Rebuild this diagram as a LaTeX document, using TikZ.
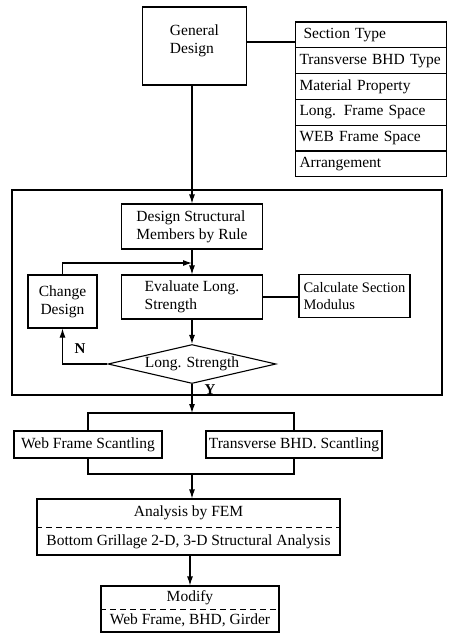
\documentclass[tikz,border=0pt]{standalone}
\usepackage{fontspec}
\setmainfont{Liberation Serif}
\usetikzlibrary{shapes.geometric,arrows.meta}
\begin{document}
\begin{tikzpicture}[
            x=1pt, y=-1pt,
            line width=1.1pt,
            every node/.style={font=\fontsize{15.5}{18}\selectfont},
            box/.style={draw, rectangle, inner sep=0pt},
            row/.style={box, minimum width=151pt, minimum height=25.8pt, text width=143pt, align=left},
            choice/.style={draw, diamond, aspect=4.3, inner sep=0pt, minimum width=168pt, minimum height=39pt},
            tag/.style={font=\fontsize{15}{17}\selectfont\bfseries},
            sep/.style={line width=0.9pt, dash pattern=on 6pt off 4pt},
            >={Latex[length=9pt,width=6pt]}
            ]
        \useasboundingbox (0,0) rectangle (455,633);
        \node (frame) [box, minimum width=430pt, minimum height=205pt] at (227,292.5) {};
        \node (gen) [box, minimum width=104pt, minimum height=78pt, align=left] at (194.5,46) {General\\Design\\[-4pt]\mbox{}};
        \node (sec) [row] at (371,34.9) {\hspace{4pt}Section Type};
        \node (bhd) [row] at (371,60.7) {Transverse BHD Type};
        \node (mat) [row] at (371,86.5) {Material Property};
        \node (lfs) [row] at (371,112.3) {Long. Frame Space};
        \node (wfs) [row] at (371,138.1) {WEB Frame Space};
        \node (arr) [row] at (371,163.9) {Arrangement};
        \node (design) [box, minimum width=141pt, minimum height=45pt, align=left] at (192,226.5) {Design Structural\\Members by Rule};
        \node (eval) [box, minimum width=141pt, minimum height=44pt, align=left] at (192,297) {Evaluate Long.\\Strength};
        \node (change) [box, minimum width=69pt, minimum height=53pt, align=center] at (62.5,301.5) {Change\\Design};
        \node (calc) [box, minimum width=111pt, minimum height=43pt, align=left, font=\fontsize{14.5}{17.5}\selectfont] at (354.5,296) {Calculate Section\\Modulus};
        \node (check) [choice] at (192,364) {Long. Strength};
        \node (web) [box, minimum width=148pt, minimum height=27pt] at (88,444.5) {Web Frame Scantling};
        \node (trans) [box, minimum width=176pt, minimum height=27pt] at (294,444.5) {Transverse BHD. Scantling};
        \node (fem) [box, minimum width=303pt, minimum height=56pt, align=center] at (188.5,527) {Analysis by FEM\\[11pt]Bottom Grillage 2-D, 3-D Structural Analysis};
        \node (mod) [box, minimum width=178pt, minimum height=46pt, align=center] at (190,609) {Modify\\[5pt]Web Frame, BHD, Girder};
        \node (no) [tag] at (80,349) {N};
        \node (yes) [tag] at (210,390) {Y};
        \coordinate (loop) at (192,263);
        \coordinate (split) at (192,413);
        \coordinate (join) at (192,474);
        \draw ([yshift=4pt]gen.east) -- ([yshift=4pt]gen.east -| sec.west);
        \draw[->] (gen.south -| design.north) -- (design.north);
        \draw[->] (design.south) -- (eval.north);
        \draw[->] (change.north) |- (loop);
        \draw (eval.east) -- (eval.east -| calc.west);
        \draw[->] (eval.south) -- (check.north);
        \draw[->] (check.west) -| (change.south);
        \draw[->] (check.south) -- (split);
        \draw (web.north) |- (split) -| (trans.north);
        \draw (web.south) |- (join) -| (trans.south);
        \draw[->] (join) -- (join |- fem.north);
        \draw[sep] (fem.west) -- (fem.east);
        \draw[->] (fem.south -| mod.north) -- (mod.north);
        \draw[sep] (mod.west) -- (mod.east);
\end{tikzpicture}
\end{document}
